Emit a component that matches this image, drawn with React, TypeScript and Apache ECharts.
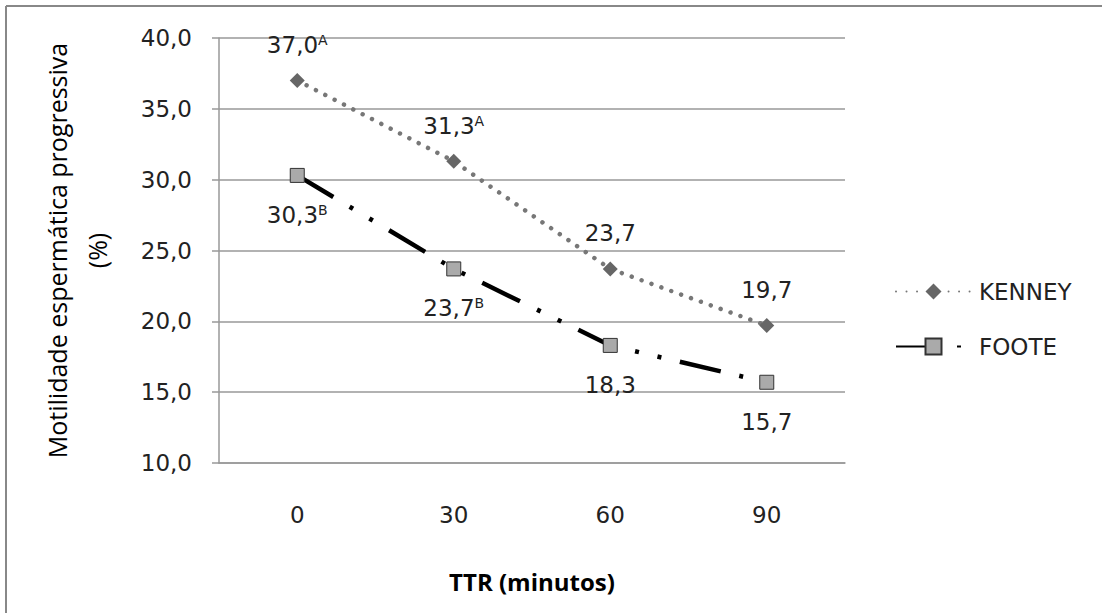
import React, { useEffect, useRef } from "react";
import * as echarts from "echarts";

const categories = ["0", "30", "60", "90"];
const kenneyValues = [37.0, 31.3, 23.7, 19.7];
const footeValues = [30.3, 23.7, 18.3, 15.7];
const kenneySup = ["A", "A", "", ""];
const footeSup = ["B", "B", "", ""];
const seriesNames = ["KENNEY", "FOOTE"];
const yMin = 10;
const yMax = 40;
const yInterval = 5;

const fmt = (v: number) => v.toFixed(1).replace(".", ",");
const DJ = "DejaVu Sans";
const OS = "Open Sans";

export default function App() {
  const ref = useRef<HTMLDivElement>(null);
  useEffect(() => {
    const chart = echarts.init(ref.current!, null, { renderer: "svg" });
    const mkLabel = (sups: string[], pos: string, dist: number) => ({
      show: true,
      position: pos,
      distance: dist,
      formatter: (p: any) => {
        const s = sups[p.dataIndex];
        const n = fmt(p.value);
        return s ? `{n|${n}}{s|${s}}` : `{n|${n}}`;
      },
      rich: {
        n: { fontFamily: DJ, fontSize: 23, color: "#222", lineHeight: 24 },
        s: { fontFamily: DJ, fontSize: 14, color: "#222", verticalAlign: "top", lineHeight: 14 },
      },
    });
    chart.setOption({
      animation: false,
      backgroundColor: "#fff",
      grid: { left: 219, right: 257, top: 38, bottom: 150, containLabel: false },
      xAxis: {
        type: "category",
        data: categories,
        boundaryGap: true,
        name: "TTR (minutos)",
        nameLocation: "middle",
        nameGap: 106,
        nameTextStyle: { fontFamily: OS, fontSize: 24, fontWeight: "bold", color: "#000" },
        axisLine: { show: true, lineStyle: { color: "#999", width: 1.5 } },
        axisTick: { show: false },
        axisLabel: { margin: 40, fontFamily: DJ, fontSize: 23, color: "#222" },
      },
      yAxis: {
        type: "value",
        min: yMin,
        max: yMax,
        interval: yInterval,
        name: "Motilidade espermática progressiva\n(%)",
        nameLocation: "middle",
        nameGap: 102,
        nameRotate: 90,
        nameTextStyle: { fontFamily: OS, fontSize: 25, color: "#000", lineHeight: 40 },
        axisLine: { show: true, lineStyle: { color: "#999", width: 1.5 } },
        axisTick: { show: true, length: 7, inside: false, lineStyle: { color: "#999", width: 1.5 } },
        splitLine: { show: true, lineStyle: { color: "#999", width: 1.5 } },
        axisLabel: { margin: 27, fontFamily: DJ, fontSize: 23, color: "#222", formatter: (v: number) => fmt(v) },
      },
      legend: {
        orient: "vertical",
        left: 890,
        top: 275,
        itemWidth: 75,
        itemHeight: 20,
        itemGap: 32,
        data: seriesNames,
        textStyle: { fontFamily: DJ, fontSize: 23, color: "#222", padding: [0, 0, 0, 3], lineHeight: 20 },
      },
      series: [
        {
          name: seriesNames[0],
          type: "line",
          data: kenneyValues,
          symbol: "diamond",
          symbolSize: 15,
          itemStyle: { color: "#666" },
          lineStyle: { color: "#777", width: 4.5, type: [0.01, 10.5], cap: "round" },
          label: mkLabel(kenneySup, "top", 16),
          z: 3,
        },
        {
          name: seriesNames[1],
          type: "line",
          data: footeValues,
          symbol: "rect",
          symbolSize: 14,
          itemStyle: { color: "#aaa", borderColor: "#333", borderWidth: 1 },
          lineStyle: { color: "#000", width: 4.5, type: [42, 19, 4, 19, 4, 19], cap: "butt" },
          label: mkLabel(footeSup, "bottom", 20),
          z: 2,
        },
      ],
      graphic: [
        { type: "line", shape: { x1: 6, y1: 6, x2: 1102, y2: 6 }, style: { stroke: "#888", lineWidth: 2 } },
        { type: "line", shape: { x1: 6, y1: 6, x2: 6, y2: 613 }, style: { stroke: "#888", lineWidth: 2 } },
      ],
    });
    return () => chart.dispose();
  }, []);
  return <div ref={ref} style={{ position: "fixed", left: 0, top: 0, width: 1102, height: 613 }} />;
}
